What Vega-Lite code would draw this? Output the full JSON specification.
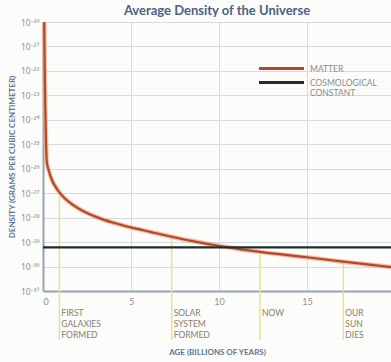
{
  "$schema": "https://vega.github.io/schema/vega-lite/v6.json",
  "autosize": {"type": "none"},
  "padding": {"left": 43, "top": 22, "right": 0, "bottom": 71},
  "width": 348,
  "height": 269,
  "background": "#fcfcfa",
  "title": {
    "text": "Average Density of the Universe",
    "font": "Lato",
    "fontSize": 13,
    "fontWeight": "bold",
    "color": "#4d6088",
    "offset": 6,
    "dy": 11
  },
  "datasets": {
    "density": [
      {"age": 0.07, "density": 1e-20, "series": "MATTER"},
      {"age": 0.10, "density": 1e-22, "series": "MATTER"},
      {"age": 0.13, "density": 3.16e-24, "series": "MATTER"},
      {"age": 0.17, "density": 1.26e-25, "series": "MATTER"},
      {"age": 0.22, "density": 1.78e-26, "series": "MATTER"},
      {"age": 0.30, "density": 1.0e-26, "series": "MATTER"},
      {"age": 0.50, "density": 3.55e-27, "series": "MATTER"},
      {"age": 0.75, "density": 1.66e-27, "series": "MATTER"},
      {"age": 0.97, "density": 1e-27, "series": "MATTER"},
      {"age": 1.25, "density": 6.03e-28, "series": "MATTER"},
      {"age": 1.72, "density": 3.24e-28, "series": "MATTER"},
      {"age": 2.3, "density": 1.82e-28, "series": "MATTER"},
      {"age": 3.05, "density": 1.05e-28, "series": "MATTER"},
      {"age": 4.0, "density": 6.17e-29, "series": "MATTER"},
      {"age": 4.94, "density": 4.07e-29, "series": "MATTER"},
      {"age": 6.08, "density": 2.63e-29, "series": "MATTER"},
      {"age": 7.31, "density": 1.66e-29, "series": "MATTER"},
      {"age": 8.5, "density": 1.10e-29, "series": "MATTER"},
      {"age": 9.96, "density": 7.08e-30, "series": "MATTER"},
      {"age": 11.0, "density": 5.37e-30, "series": "MATTER"},
      {"age": 12.33, "density": 3.98e-30, "series": "MATTER"},
      {"age": 14.98, "density": 2.40e-30, "series": "MATTER"},
      {"age": 17.06, "density": 1.58e-30, "series": "MATTER"},
      {"age": 19.77, "density": 9.55e-31, "series": "MATTER"},
      {"age": 0, "density": 6.03e-30, "series": "COSMOLOGICAL CONSTANT"},
      {"age": 19.77, "density": 6.03e-30, "series": "COSMOLOGICAL CONSTANT"}
    ],
    "events": [
      {"age": 0.93, "density": 1.05e-27, "label": "FIRST\nGALAXIES\nFORMED"},
      {"age": 7.31, "density": 1.66e-29, "label": "SOLAR\nSYSTEM\nFORMED"},
      {"age": 12.33, "density": 3.98e-30, "label": "NOW"},
      {"age": 17.06, "density": 1.58e-30, "label": "OUR\nSUN\nDIES"}
    ]
  },
  "encoding": {
    "x": {
      "field": "age",
      "type": "quantitative",
      "scale": {"domain": [0, 19.77], "nice": false, "zero": false},
      "axis": {
        "title": "AGE (BILLIONS OF YEARS)",
        "values": [0, 5, 10, 15],
        "ticks": false,
        "labelPadding": 6,
        "titlePadding": 42
      }
    },
    "y": {
      "field": "density",
      "type": "quantitative",
      "scale": {"type": "log", "domain": [1e-31, 1e-20], "nice": false},
      "axis": {
        "title": "DENSITY (GRAMS PER CUBIC CENTIMETER)",
        "values": [1e-20, 1e-21, 1e-22, 1e-23, 1e-24, 1e-25, 1e-26, 1e-27, 1e-28, 1e-29, 1e-30, 1e-31],
        "labelExpr": "'10⁻' + substring('⁰¹²³⁴⁵⁶⁷⁸⁹', floor(-round(log(datum.value)/LN10)/10), floor(-round(log(datum.value)/LN10)/10)+1) + substring('⁰¹²³⁴⁵⁶⁷⁸⁹', (-round(log(datum.value)/LN10))%10, (-round(log(datum.value)/LN10))%10+1)",
        "labelFont": "Noto Sans",
        "labelFontSize": 8.5,
        "ticks": false,
        "labelPadding": 4,
        "titlePadding": 4
      }
    }
  },
  "layer": [
    {
      "data": {"name": "events"},
      "mark": {"type": "rule", "color": "#e4e29a", "strokeWidth": 1.5, "clip": false},
      "encoding": {
        "y2": {"datum": 1e-33}
      }
    },
    {
      "data": {"name": "events"},
      "mark": {
        "type": "text",
        "align": "left",
        "baseline": "top",
        "dx": 2,
        "dy": 1,
        "lineBreak": "\n",
        "lineHeight": 11,
        "font": "Lato",
        "fontSize": 8.5,
        "color": "#857e6c",
        "clip": false
      },
      "encoding": {
        "y": {"datum": 2.1e-32},
        "text": {"field": "label"}
      }
    },
    {
      "data": {"name": "density"},
      "transform": [{"filter": "datum.series == 'MATTER'"}],
      "mark": {"type": "line", "color": "#eeae8e", "strokeWidth": 4.5, "interpolate": "monotone", "opacity": 0.8},
      "encoding": {}
    },
    {
      "data": {"name": "density"},
      "mark": {"type": "line", "strokeWidth": 2.2, "interpolate": "monotone"},
      "encoding": {
        "color": {
          "field": "series",
          "type": "nominal",
          "scale": {"domain": ["MATTER", "COSMOLOGICAL CONSTANT"], "range": ["#b4492a", "#1f2c2e"]},
          "legend": {
            "title": null,
            "orient": "none",
            "legendX": 232,
            "legendY": 40,
            "symbolType": "M-4.5,0L4.5,0",
            "symbolSize": 100,
            "symbolStrokeWidth": 3,
            "labelExpr": "datum.label == 'COSMOLOGICAL CONSTANT' ? ['COSMOLOGICAL', 'CONSTANT'] : datum.label",
            "labelFont": "Lato",
            "labelFontSize": 8.5,
            "labelColor": "#868b92",
            "labelOffset": 22,
            "rowPadding": 1
          }
        }
      }
    }
  ],
  "config": {
    "view": {"stroke": null},
    "axis": {
      "domainColor": "#94a3b4",
      "domainWidth": 2,
      "gridColor": "#d5dbe2",
      "gridWidth": 1,
      "labelColor": "#8a929c",
      "labelFont": "Lato",
      "labelFontSize": 9,
      "titleFont": "Lato",
      "titleFontSize": 8,
      "titleFontWeight": "bold",
      "titleColor": "#5d7396"
    }
  }
}
